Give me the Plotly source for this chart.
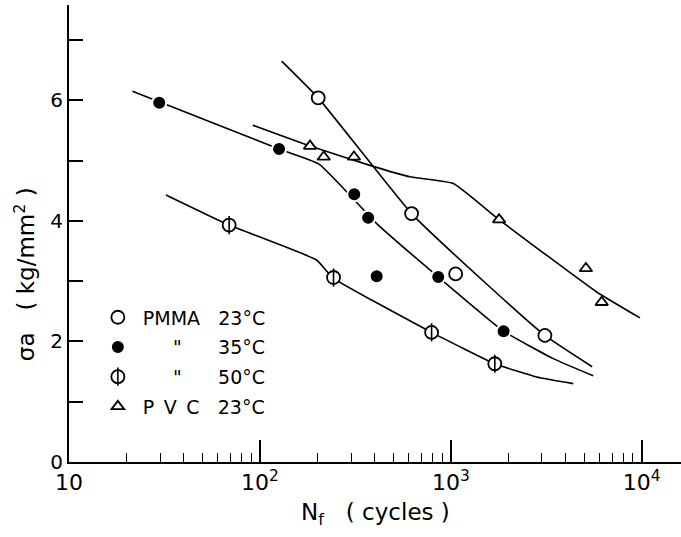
import plotly.graph_objects as go

# ---------------- data ----------------
# measured points
pmma23_n = [202, 623, 1060, 3110]
pmma23_s = [6.04, 4.12, 3.12, 2.10]

pmma35_n = [29.7, 126, 312, 369, 409, 859, 1890]
pmma35_s = [5.96, 5.19, 4.44, 4.05, 3.08, 3.07, 2.17]

pmma50_n = [69, 243, 793, 1700]
pmma50_s = [3.93, 3.06, 2.15, 1.63]

pvc_n = [183, 216, 311, 1790, 5100, 6170]
pvc_s = [5.24, 5.06, 5.06, 4.02, 3.21, 2.65]

# fitted curves
pmma23_curve_n = [130, 202, 623, 1470, 3110, 5500]
pmma23_curve_s = [6.65, 6.04, 4.12, 3.01, 2.10, 1.58]

pmma35_curve_n = [21.5, 126, 204, 409, 859, 1890, 3440, 5570]
pmma35_curve_s = [6.15, 5.19, 4.94, 3.955, 3.07, 2.17, 1.715, 1.43]

pmma50_curve_n = [32.2, 69, 198, 240, 793, 1700, 2820, 4380]
pmma50_curve_s = [4.43, 3.93, 3.35, 3.06, 2.15, 1.63, 1.41, 1.30]

pvc_curve_n = [91.8, 183, 377, 611, 1030, 1790, 5810, 9790]
pvc_curve_s = [5.585, 5.24, 4.92, 4.73, 4.62, 4.02, 2.82, 2.39]

# axis ticks
x_major = [10, 100, 1000, 10000]
x_major_text = ["10", "10<sup>2</sup>", "10<sup>3</sup>", "10<sup>4</sup>"]
x_minor = [m * d for d in (10, 100, 1000) for m in range(2, 10)]
y_major = [0, 2, 4, 6]
y_minor = [1, 3, 5, 7]

NB = "\u00a0"
EN = "\u2002"
names = [
    "PMMA" + NB * 3 + "23°C",
    NB * 5 + '"' + NB * 6 + "35°C",
    NB * 5 + '"' + NB * 6 + "50°C",
    "P" + EN + "V" + EN + "C" + NB * 3 + "23°C",
]

FONT = "DejaVu Sans"
BLACK = "black"

fig = go.Figure()

# curves
for cn, cs in [(pmma23_curve_n, pmma23_curve_s), (pmma35_curve_n, pmma35_curve_s),
               (pmma50_curve_n, pmma50_curve_s), (pvc_curve_n, pvc_curve_s)]:
    fig.add_trace(go.Scatter(x=cn, y=cs, mode="lines",
                             line=dict(color=BLACK, width=1.6, shape="spline", smoothing=0.4),
                             showlegend=False, hoverinfo="skip"))

# markers
fig.add_trace(go.Scatter(x=pmma23_n, y=pmma23_s, mode="markers", name=names[0],
                         legendgroup="a",
                         marker=dict(symbol="circle", size=13, color="white",
                                     line=dict(color=BLACK, width=1.8))))
fig.add_trace(go.Scatter(x=pmma35_n, y=pmma35_s, mode="markers", name=names[1],
                         legendgroup="b",
                         marker=dict(symbol="circle", size=14, color=BLACK,
                                     line=dict(color="white", width=2))))
fig.add_trace(go.Scatter(x=pmma50_n, y=pmma50_s, mode="markers", name=names[2],
                         legendgroup="c",
                         marker=dict(symbol="circle", size=13, color="white",
                                     line=dict(color=BLACK, width=1.8))))
fig.add_trace(go.Scatter(x=pvc_n, y=pvc_s, mode="markers", name=names[3],
                         legendgroup="d",
                         marker=dict(symbol="triangle-up", size=11, color="white",
                                     line=dict(color=BLACK, width=1.8))))

# overlay legend (legend2) adding the vertical bar of the 50 °C symbol
fig.add_trace(go.Scatter(x=[None], y=[None], mode="markers", name=names[0],
                         legend="legend2", legendgroup="a2",
                         marker=dict(symbol="circle", size=13, color="rgba(0,0,0,0)"),
                         hoverinfo="skip"))
fig.add_trace(go.Scatter(x=[None], y=[None], mode="markers", name=names[1],
                         legend="legend2", legendgroup="b2",
                         marker=dict(symbol="circle", size=13, color="rgba(0,0,0,0)"),
                         hoverinfo="skip"))
fig.add_trace(go.Scatter(x=pmma50_n, y=pmma50_s, mode="markers", name=names[2],
                         legend="legend2", legendgroup="c2",
                         marker=dict(symbol="line-ns-open", size=13, color=BLACK,
                                     line=dict(color=BLACK, width=1.6)),
                         hoverinfo="skip"))

leg_common = dict(x=0.039, y=0.358, xanchor="left", yanchor="top",
                  bgcolor="rgba(0,0,0,0)", borderwidth=0, itemwidth=40,
                  tracegroupgap=2, itemclick=False, itemdoubleclick=False)

fig.update_layout(
    width=681, height=537,
    margin=dict(l=69, r=0, t=5, b=75),
    plot_bgcolor="white", paper_bgcolor="white",
    font=dict(family=FONT, color=BLACK),
    legend=dict(**leg_common, font=dict(family=FONT, size=19, color=BLACK)),
    legend2=dict(**leg_common, font=dict(family=FONT, size=19, color="rgba(0,0,0,0)")),
    xaxis=dict(type="log", range=[1, 4.2057],
               showgrid=False, zeroline=False,
               showline=True, linecolor=BLACK, linewidth=2,
               ticks="inside", ticklen=22, tickwidth=1.6, tickcolor=BLACK,
               tickvals=x_major, ticktext=x_major_text,
               tickfont=dict(size=22, family=FONT),
               minor=dict(tickvals=x_minor, ticks="inside", ticklen=9,
                          tickwidth=1.4, tickcolor=BLACK, showgrid=False)),
    yaxis=dict(range=[0, 7.58], showgrid=False, zeroline=False,
               showline=True, linecolor=BLACK, linewidth=2,
               ticks="inside", ticklen=14, tickwidth=1.6, tickcolor=BLACK,
               tickvals=y_major,
               tickfont=dict(size=20, family=FONT),
               minor=dict(tickvals=y_minor, ticks="inside", ticklen=14,
                          tickwidth=1.6, tickcolor=BLACK, showgrid=False)),
    annotations=[
        dict(text="σa" + NB * 3 + "( kg/mm<sup>2</sup> )", textangle=-90,
             xref="paper", yref="paper", x=-0.0719, y=0.411,
             xanchor="center", yanchor="middle", showarrow=False,
             font=dict(size=23, family=FONT)),
        dict(text="N<sub>f</sub>" + NB * 3 + "( cycles )",
             xref="paper", yref="paper", x=0.5, y=-0.1146,
             xanchor="center", yanchor="middle", showarrow=False,
             font=dict(size=23, family=FONT)),
    ],
)

fig.write_html("out.html", config={"displayModeBar": False},
               post_script="document.body.style.margin='0';")
